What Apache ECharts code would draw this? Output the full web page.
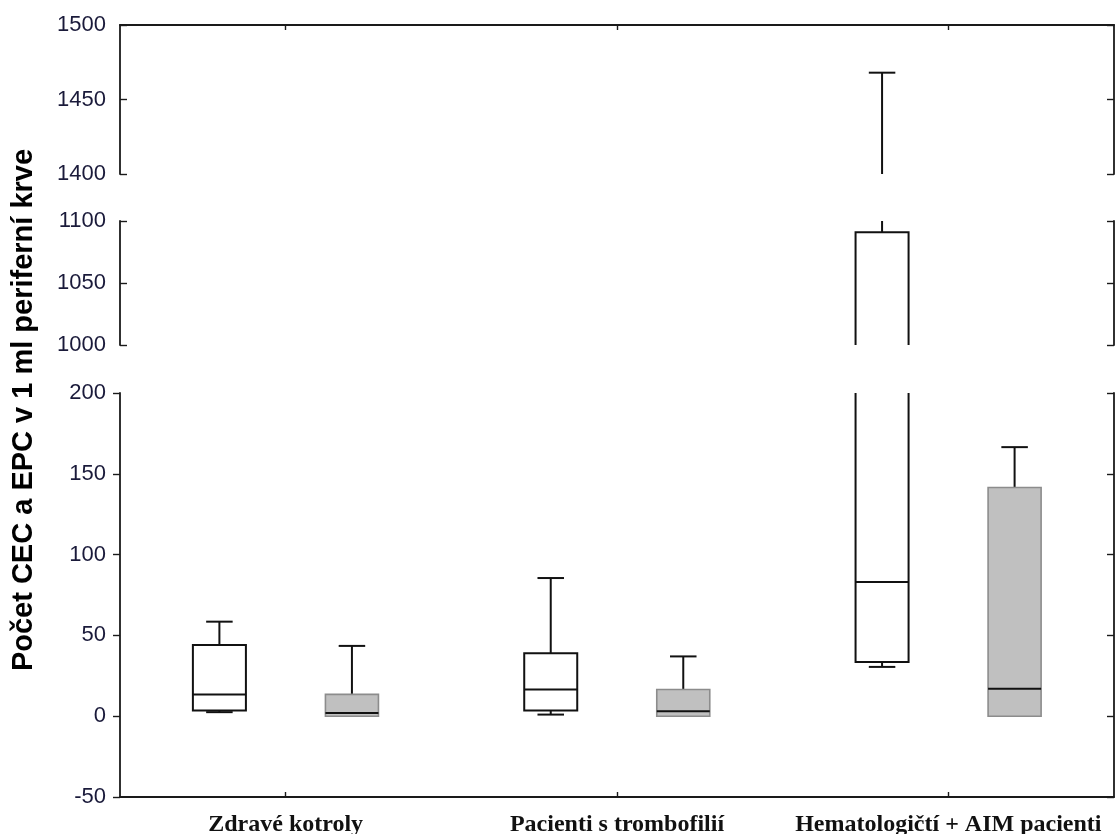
<!DOCTYPE html>
<html>
<head>
<meta charset="utf-8">
<title>Počet CEC a EPC</title>
<script src="https://cdn.jsdelivr.net/npm/echarts@6/dist/echarts.min.js"></script>
<style>
html, body { margin: 0; padding: 0; background: #fff; }
#chart { width: 1115px; height: 834px; }
</style>
</head>
<body>
<div id="chart"></div>
<script>
// groups on the x axis
const categories = ['Zdravé kotroly', 'Pacienti s trombofilií', 'Hematologičtí + AIM pacienti'];

// box stats: [min, Q1, median, Q3, max]
const cecStats = [
    [2.5, 3.5, 13.5, 44, 58.5],
    [1, 3.5, 16.5, 39, 85.5],
    [30.5, 33.5, 83, 1091, 1468]
];
const epcStats = [
    [0, 0, 2, 13.5, 43.5],
    [0, 0, 3, 16.5, 37],
    [0, 0, 17, 141.5, 166.5]
];

// broken y axis: three pieces, top to bottom
const segMin = [1400, 1000, -50];
const segMax = [1500, 1100, 200];
const tickStep = 50;

const yName = 'Počet CEC a EPC v 1 ml periferní krve';

// layout of the three pieces (px)
const gridTop = [25, 221, 393];
const gridHeight = [149, 124, 404];
const LEFT = 120, RIGHT = 1;

const BOX_W = 0.16;   // share of band
const CAP_W = 0.08;
const AXIS_COLOR = '#1a1a1a';
const LABEL_COLOR = '#1a1a3a';

function makeRender(offset, fill, stroke, strokeWidth) {
    return function (params, api) {
        const cat = api.value(0);
        const band = api.size([1, 0])[0];
        const cx = api.coord([cat, 0])[0] + offset * band;
        const half = BOX_W * band / 2;
        const cap = CAP_W * band / 2;
        // y[0]=min, y[1]=Q1, y[2]=median, y[3]=Q3, y[4]=max
        const y = [1, 2, 3, 4, 5].map(function (i) { return api.coord([cat, api.value(i)])[1]; });
        const black = { stroke: '#111', lineWidth: 2 };
        const children = [
            { type: 'line', shape: { x1: cx, y1: y[3], x2: cx, y2: y[4] }, style: black },
            { type: 'line', shape: { x1: cx - cap, y1: y[4], x2: cx + cap, y2: y[4] }, style: black },
            { type: 'rect', shape: { x: cx - half, y: y[3], width: half * 2, height: y[1] - y[3] },
              style: { fill: fill, stroke: stroke, lineWidth: strokeWidth } },
            { type: 'line', shape: { x1: cx - half, y1: y[2], x2: cx + half, y2: y[2] }, style: black }
        ];
        if (api.value(1) < api.value(2)) {
            children.push({ type: 'line', shape: { x1: cx, y1: y[1], x2: cx, y2: y[0] }, style: black });
            children.push({ type: 'line', shape: { x1: cx - cap, y1: y[0], x2: cx + cap, y2: y[0] }, style: black });
        }
        return { type: 'group', children: children };
    };
}

function toData(stats) {
    return stats.map(function (s, i) { return [i].concat(s); });
}

const grids = [], xAxes = [], yAxes = [], series = [];
for (let g = 0; g < 3; g++) {
    const isTop = g === 0, isBottom = g === 2;
    grids.push({ left: LEFT, right: RIGHT, top: gridTop[g], height: gridHeight[g], outerBoundsMode: 'none' });
    xAxes.push({
        type: 'category',
        gridIndex: g,
        data: categories,
        position: isTop ? 'top' : 'bottom',
        show: isTop || isBottom,
        axisLine: { show: true, onZero: false, lineStyle: { color: AXIS_COLOR, width: 1.8 } },
        axisTick: { show: true, inside: true, alignWithLabel: true, length: 5, lineStyle: { color: AXIS_COLOR, width: 1.4 } },
        axisLabel: {
            show: isBottom,
            interval: 0,
            margin: 16,
            color: '#111',
            fontFamily: '"Liberation Serif", "Times New Roman", serif',
            fontWeight: 'bold',
            fontSize: 24
        },
        splitLine: { show: false }
    });
    const common = {
        type: 'value',
        gridIndex: g,
        min: segMin[g],
        max: segMax[g],
        interval: tickStep,
        splitLine: { show: false },
        axisLine: { show: true, lineStyle: { color: AXIS_COLOR, width: 1.8 } }
    };
    yAxes.push(Object.assign({}, common, {
        position: 'left',
        axisTick: { show: true, inside: !isBottom, length: 7, lineStyle: { color: AXIS_COLOR, width: 1.4 } },
        axisLabel: {
            show: true,
            margin: 14,
            color: LABEL_COLOR,
            fontFamily: '"Liberation Sans", Arial, sans-serif',
            fontSize: 22,
            formatter: function (v) { return String(v); }
        }
    }));
    yAxes.push(Object.assign({}, common, {
        position: 'right',
        axisTick: { show: true, inside: true, length: 7, lineStyle: { color: AXIS_COLOR, width: 1.4 } },
        axisLabel: { show: false }
    }));
    series.push({
        name: 'CEC',
        type: 'custom',
        xAxisIndex: g,
        yAxisIndex: g * 2,
        clip: true,
        renderItem: makeRender(-0.2, '#ffffff', '#111', 2),
        encode: { x: 0, y: [1, 2, 3, 4, 5] },
        data: toData(cecStats)
    });
    series.push({
        name: 'EPC',
        type: 'custom',
        xAxisIndex: g,
        yAxisIndex: g * 2,
        clip: true,
        renderItem: makeRender(0.2, '#c0c0c0', '#8c8c8c', 1.6),
        encode: { x: 0, y: [1, 2, 3, 4, 5] },
        data: toData(epcStats)
    });
}

const chart = echarts.init(document.getElementById('chart'), null, { renderer: 'canvas' });
chart.setOption({
    animation: false,
    backgroundColor: '#fff',
    grid: grids,
    xAxis: xAxes,
    yAxis: yAxes,
    series: series,
    graphic: [{
        type: 'text',
        x: 24,
        y: 410,
        rotation: Math.PI / 2,
        style: {
            text: yName,
            fill: '#000',
            font: 'bold 29px "Liberation Sans", Arial, sans-serif',
            textAlign: 'center',
            textVerticalAlign: 'middle'
        }
    }]
});
</script>
</body>
</html>
